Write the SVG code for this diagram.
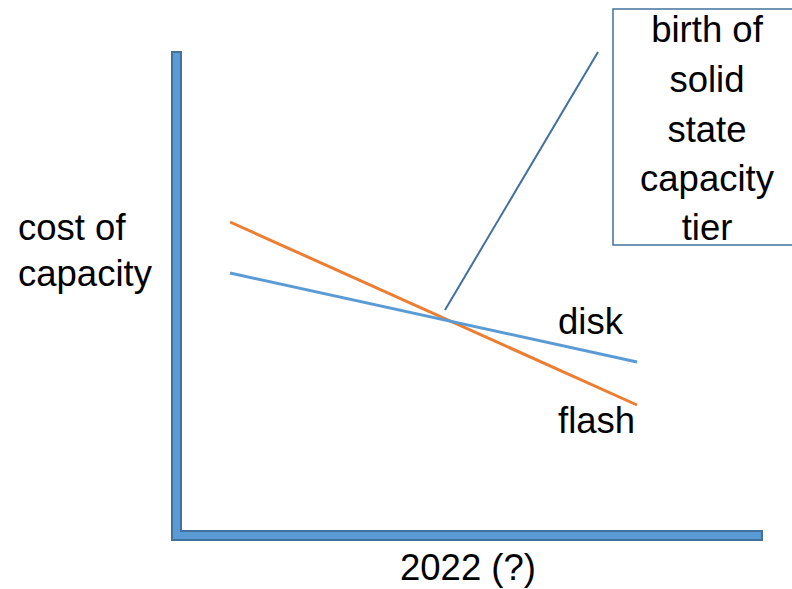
<svg xmlns="http://www.w3.org/2000/svg" width="792" height="589" viewBox="0 0 792 589">
<style>
.t{font-family:"Liberation Sans",Arial,sans-serif;font-size:36.5px;fill:#000}
.axis{fill:#5b9bd5;stroke:#41719c;stroke-width:2}
</style>
<rect width="792" height="589" fill="#fff"/>
<g id="axes">
<rect class="axis" x="172" y="52" width="9" height="488"/>
<rect class="axis" x="172" y="531" width="590" height="9"/>
<rect x="173" y="525" width="7" height="10" fill="#5b9bd5"/>
</g>
<g id="connectors">
<line x1="230" y1="222" x2="637" y2="405" stroke="#ed7d31" stroke-width="3"/>
<line x1="230" y1="273" x2="637" y2="362" stroke="#5b9bd5" stroke-width="3"/>
<line x1="445" y1="310" x2="598" y2="52" stroke="#41719c" stroke-width="2"/>
</g>
<g id="callout">
<rect x="613" y="9" width="200" height="236" fill="#fff" stroke="#41719c" stroke-width="1.5"/>
<text class="t" text-anchor="middle" x="707" y="42">birth of</text>
<text class="t" text-anchor="middle" x="707" y="92">solid</text>
<text class="t" text-anchor="middle" x="707" y="142">state</text>
<text class="t" text-anchor="middle" x="707" y="191">capacity</text>
<text class="t" text-anchor="middle" x="707" y="240">tier</text>
</g>
<g id="labels">
<text class="t" x="18" y="240">cost of</text>
<text class="t" x="18" y="286">capacity</text>
<text class="t" x="558" y="334">disk</text>
<text class="t" x="558" y="433">flash</text>
<text class="t" x="400" y="580">2022 (?)</text>
</g>
</svg>
